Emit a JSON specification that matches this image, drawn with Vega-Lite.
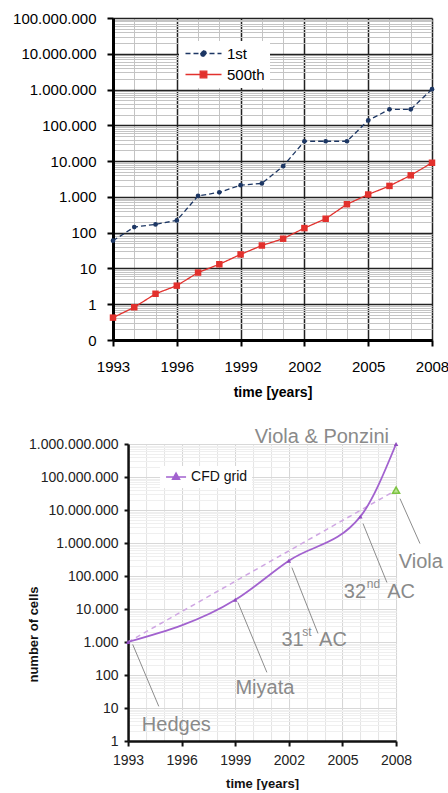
{
  "$schema": "https://vega.github.io/schema/vega-lite/v6.json",
  "background": "white",
  "padding": {"left": 12, "top": 11, "right": 0, "bottom": 0},
  "config": {"font": "Liberation Sans", "view": {"stroke": null}},
  "center": true,
  "spacing": 27,
  "resolve": {"scale": {"color": "independent"}, "legend": {"color": "independent"}},
  "datasets": {
    "top500": [
      {"year": 1993, "value": 59.7, "series": "1st"},
      {"year": 1994, "value": 143.4, "series": "1st"},
      {"year": 1995, "value": 170.4, "series": "1st"},
      {"year": 1996, "value": 220.4, "series": "1st"},
      {"year": 1997, "value": 1068, "series": "1st"},
      {"year": 1998, "value": 1338, "series": "1st"},
      {"year": 1999, "value": 2121, "series": "1st"},
      {"year": 2000, "value": 2379, "series": "1st"},
      {"year": 2001, "value": 7226, "series": "1st"},
      {"year": 2002, "value": 35860, "series": "1st"},
      {"year": 2003, "value": 35860, "series": "1st"},
      {"year": 2004, "value": 35860, "series": "1st"},
      {"year": 2005, "value": 136800, "series": "1st"},
      {"year": 2006, "value": 280600, "series": "1st"},
      {"year": 2007, "value": 280600, "series": "1st"},
      {"year": 2008, "value": 1026000, "series": "1st"},
      {"year": 1993, "value": 0.422, "series": "500th"},
      {"year": 1994, "value": 0.822, "series": "500th"},
      {"year": 1995, "value": 1.96, "series": "500th"},
      {"year": 1996, "value": 3.3, "series": "500th"},
      {"year": 1997, "value": 7.67, "series": "500th"},
      {"year": 1998, "value": 13.1, "series": "500th"},
      {"year": 1999, "value": 24.7, "series": "500th"},
      {"year": 2000, "value": 43.8, "series": "500th"},
      {"year": 2001, "value": 67.8, "series": "500th"},
      {"year": 2002, "value": 134.3, "series": "500th"},
      {"year": 2003, "value": 245.1, "series": "500th"},
      {"year": 2004, "value": 624, "series": "500th"},
      {"year": 2005, "value": 1166, "series": "500th"},
      {"year": 2006, "value": 2026, "series": "500th"},
      {"year": 2007, "value": 4005, "series": "500th"},
      {"year": 2008, "value": 9000, "series": "500th"}
    ],
    "cfd": [
      {"year": 1993, "cells": 1000, "series": "CFD grid"},
      {"year": 1999, "cells": 19000, "series": "CFD grid"},
      {"year": 2002, "cells": 290000, "series": "CFD grid"},
      {"year": 2006, "cells": 6300000, "series": "CFD grid"},
      {"year": 2008, "cells": 1000000000, "series": "CFD grid"}
    ],
    "trend": [
      {"year": 1993, "cells": 1000},
      {"year": 2008, "cells": 40000000}
    ],
    "viola": [
      {"year": 2008, "cells": 40000000}
    ],
    "arrows": [
      {"year": 1993.26, "cells": 845, "year2": 1994.72, "cells2": 11.2},
      {"year": 1999.15, "cells": 15800, "year2": 2000.77, "cells2": 120},
      {"year": 2002.17, "cells": 180000, "year2": 2003.63, "cells2": 1820},
      {"year": 2006.15, "cells": 3880000, "year2": 2007.49, "cells2": 63500},
      {"year": 2008.22, "cells": 22100000, "year2": 2009.34, "cells2": 960000}
    ],
    "notes": [
      {"label": "Viola & Ponzini", "year": 2003.85, "cells": 1670000000},
      {"label": "Viola", "year": 2009.39, "cells": 275000},
      {"label": "32", "year": 2005.7, "cells": 31700},
      {"label": "AC", "year": 2008.28, "cells": 31700},
      {"label": "31", "year": 2002.21, "cells": 1117},
      {"label": "AC", "year": 2004.47, "cells": 1117},
      {"label": "Miyata", "year": 2000.66, "cells": 39.4},
      {"label": "Hedges", "year": 1995.7, "cells": 2.99}
    ],
    "sups": [
      {"label": "nd", "year": 2006.74, "cells": 55300},
      {"label": "st", "year": 2003.01, "cells": 1950}
    ],
    "empty": []
  },
  "vconcat": [
    {
      "spacing": 0,
      "hconcat": [
        {
          "width": 319,
          "height": 322,
          "data": {"name": "top500"},
          "encoding": {
            "x": {
              "field": "year", "type": "quantitative",
              "scale": {"domain": [1993, 2008], "nice": false, "zero": false},
              "axis": {
                "title": "time [years]",
                "values": [1993, 1994, 1995, 1996, 1997, 1998, 1999, 2000, 2001, 2002, 2003, 2004, 2005, 2006, 2007, 2008],
                "format": "d",
                "labelExpr": "(datum.value - 1993) % 3 == 0 ? datum.label : ''",
                "labelFlush": false,
                "labelOverlap": false,
                "labelFontSize": 15,
                "labelColor": "#000",
                "labelPadding": 13,
                "tickSize": 6,
                "tickWidth": 2,
                "tickColor": {"condition": {"test": "(datum.value - 1993) % 3 == 0", "value": "#000"}, "value": "transparent"},
                "domainColor": "#000",
                "domainWidth": 3,
                "grid": true,
                "gridColor": {"condition": {"test": "(datum.value - 1993) % 3 == 0", "value": "#222"}, "value": "#c4c4c4"},
                "gridWidth": {"condition": {"test": "(datum.value - 1993) % 3 == 0", "value": 1.5}, "value": 1},
                "gridOpacity": 1,
                "titleFontSize": 14,
                "titleFontWeight": "bold",
                "titleColor": "#000",
                "titlePadding": 11
              }
            },
            "y": {
              "field": "value", "type": "quantitative",
              "scale": {"type": "log", "domain": [0.1, 100000000], "nice": false},
              "axis": {
                "title": null,
                "values": [0.1, 0.2, 0.3, 0.4, 0.5, 0.6, 0.7, 0.8, 0.9, 1, 2, 3, 4, 5, 6, 7, 8, 9, 10, 20, 30, 40, 50, 60, 70, 80, 90, 100, 200, 300, 400, 500, 600, 700, 800, 900, 1000, 2000, 3000, 4000, 5000, 6000, 7000, 8000, 9000, 10000, 20000, 30000, 40000, 50000, 60000, 70000, 80000, 90000, 100000, 200000, 300000, 400000, 500000, 600000, 700000, 800000, 900000, 1000000, 2000000, 3000000, 4000000, 5000000, 6000000, 7000000, 8000000, 9000000, 10000000, 20000000, 30000000, 40000000, 50000000, 60000000, 70000000, 80000000, 90000000, 100000000],
                "labelExpr": "abs(log(datum.value)/LN10 - round(log(datum.value)/LN10)) < 0.001 ? (datum.value < 1 ? '0' : replace(format(datum.value, ','), regexp(',', 'g'), '.')) : ''",
                "labelOverlap": false,
                "labelFontSize": 15,
                "labelColor": "#000",
                "labelPadding": 11,
                "tickSize": 6,
                "tickWidth": 2,
                "tickColor": {"condition": {"test": "abs(log(datum.value)/LN10 - round(log(datum.value)/LN10)) < 0.001", "value": "#000"}, "value": "transparent"},
                "domainColor": "#000",
                "domainWidth": 3,
                "grid": true,
                "gridColor": {"condition": {"test": "abs(log(datum.value)/LN10 - round(log(datum.value)/LN10)) < 0.001", "value": "#222"}, "value": "#c4c4c4"},
                "gridWidth": {"condition": {"test": "abs(log(datum.value)/LN10 - round(log(datum.value)/LN10)) < 0.001", "value": 1.5}, "value": 1},
                "gridOpacity": 1
              }
            }
          },
          "layer": [
            {
              "mark": {"type": "line", "strokeWidth": 1.3},
              "encoding": {
                "color": {
                  "field": "series", "type": "nominal",
                  "scale": {"domain": ["1st", "500th"], "range": ["#1d3764", "#e2312d"]},
                  "legend": {
                    "title": null,
                    "orient": "none",
                    "legendX": 66,
                    "legendY": 23,
                    "fillColor": "white",
                    "padding": 5,
                    "labelFontSize": 15,
                    "labelColor": "#000",
                    "symbolSize": 144,
                    "symbolOffset": 12,
                    "labelOffset": 16,
                    "rowPadding": 5,
                    "symbolStrokeWidth": 1.3,
                    "encode": {
                      "symbols": {
                        "update": {
                          "shape": {"signal": "datum.value == '1st' ? 'M-3,0H3M-0.45,0A0.45,0.45,0,1,0,0.45,0A0.45,0.45,0,1,0,-0.45,0Z' : 'M-3,0H3M-0.55,-0.55H0.55V0.55H-0.55Z'"},
                          "fill": {"signal": "datum.value == '1st' ? '#1d3764' : '#e2312d'"},
                          "stroke": {"signal": "datum.value == '1st' ? '#1d3764' : '#e2312d'"},
                          "strokeDash": {"signal": "datum.value == '1st' ? [5, 3] : [1, 0]"},
                          "opacity": {"value": 1}
                        }
                      }
                    }
                  }
                },
                "strokeDash": {
                  "field": "series", "type": "nominal",
                  "scale": {"domain": ["1st", "500th"], "range": [[5, 3], [1, 0]]},
                  "legend": null
                }
              }
            },
            {
              "mark": {"type": "point", "filled": true, "opacity": 1},
              "encoding": {
                "color": {"field": "series", "type": "nominal", "legend": null},
                "shape": {"field": "series", "type": "nominal", "scale": {"domain": ["1st", "500th"], "range": ["circle", "square"]}, "legend": null},
                "size": {"field": "series", "type": "nominal", "scale": {"domain": ["1st", "500th"], "range": [22, 42]}, "legend": null}
              }
            }
          ]
        },
        {
          "width": 9,
          "height": 10,
          "data": {"name": "empty"},
          "mark": "point"
        }
      ]
    },
    {
      "width": 268,
      "height": 297,
      "encoding": {
        "x": {
          "field": "year", "type": "quantitative",
          "scale": {"domain": [1993, 2008], "nice": false, "zero": false},
          "axis": {
            "title": "time [years]",
            "values": [1993, 1994, 1995, 1996, 1997, 1998, 1999, 2000, 2001, 2002, 2003, 2004, 2005, 2006, 2007, 2008],
            "format": "d",
            "labelExpr": "(datum.value - 1993) % 3 == 0 ? datum.label : ''",
            "labelFlush": false,
            "labelOverlap": false,
            "labelFontSize": 14,
            "labelColor": "#222",
            "labelPadding": 7,
            "tickSize": 5,
            "tickWidth": 2,
            "tickColor": {"condition": {"test": "(datum.value - 1993) % 3 == 0", "value": "#111"}, "value": "transparent"},
            "domainColor": "#111",
            "domainWidth": 2.5,
            "grid": true,
            "gridColor": {"condition": {"test": "(datum.value - 1993) % 3 == 0", "value": "#d4d4d4"}, "value": "#e4e4e4"},
            "gridWidth": 1,
            "gridOpacity": 1,
            "titleFontSize": 13,
            "titleFontWeight": "bold",
            "titleColor": "#111",
            "titlePadding": 10
          }
        },
        "y": {
          "field": "cells", "type": "quantitative",
          "scale": {"type": "log", "domain": [1, 1000000000], "nice": false},
          "axis": {
            "title": "number of cells",
            "titleFontSize": 13,
            "titleFontWeight": "bold",
            "titleColor": "#111",
            "titleX": -88,
            "titleY": 190,
            "values": [1, 2, 3, 4, 5, 6, 7, 8, 9, 10, 20, 30, 40, 50, 60, 70, 80, 90, 100, 200, 300, 400, 500, 600, 700, 800, 900, 1000, 2000, 3000, 4000, 5000, 6000, 7000, 8000, 9000, 10000, 20000, 30000, 40000, 50000, 60000, 70000, 80000, 90000, 100000, 200000, 300000, 400000, 500000, 600000, 700000, 800000, 900000, 1000000, 2000000, 3000000, 4000000, 5000000, 6000000, 7000000, 8000000, 9000000, 10000000, 20000000, 30000000, 40000000, 50000000, 60000000, 70000000, 80000000, 90000000, 100000000, 200000000, 300000000, 400000000, 500000000, 600000000, 700000000, 800000000, 900000000, 1000000000],
            "labelExpr": "abs(log(datum.value)/LN10 - round(log(datum.value)/LN10)) < 0.001 ? replace(format(datum.value, ','), regexp(',', 'g'), '.') : ''",
            "labelOverlap": false,
            "labelFontSize": 14,
            "labelColor": "#222",
            "labelPadding": 6,
            "tickSize": 4,
            "tickWidth": 2,
            "tickColor": {"condition": {"test": "abs(log(datum.value)/LN10 - round(log(datum.value)/LN10)) < 0.001", "value": "#111"}, "value": "transparent"},
            "domainColor": "#111",
            "domainWidth": 2.5,
            "grid": true,
            "gridColor": {"condition": {"test": "abs(log(datum.value)/LN10 - round(log(datum.value)/LN10)) < 0.001", "value": "#d8d8d8"}, "value": "#efefef"},
            "gridWidth": 1,
            "gridOpacity": 1
          }
        }
      },
      "layer": [
        {
          "data": {"name": "trend"},
          "mark": {"type": "line", "color": "#cfa6e3", "strokeWidth": 1.5, "strokeDash": [5, 4]}
        },
        {
          "data": {"name": "cfd"},
          "mark": {"type": "line", "strokeWidth": 1.8, "interpolate": "monotone"},
          "encoding": {
            "color": {
              "field": "series", "type": "nominal",
              "scale": {"domain": ["CFD grid"], "range": ["#a262cf"]},
              "legend": {
                "title": null,
                "orient": "none",
                "legendX": 32,
                "legendY": 22,
                "fillColor": "white",
                "padding": 4,
                "labelFontSize": 14,
                "labelColor": "#111",
                "symbolSize": 100,
                "symbolOffset": 5,
                "labelOffset": 8,
                "symbolStrokeWidth": 1.5,
                "encode": {
                  "symbols": {
                    "update": {
                      "shape": {"value": "M-2,0H2M0,-0.8L0.7,0.45H-0.7Z"},
                      "fill": {"value": "#a262cf"},
                      "stroke": {"value": "#a262cf"},
                      "opacity": {"value": 1}
                    }
                  }
                }
              }
            }
          }
        },
        {
          "data": {"name": "cfd"},
          "mark": {"type": "point", "shape": "triangle-up", "filled": true, "size": 20, "color": "#8e4bbd", "opacity": 1}
        },
        {
          "data": {"name": "viola"},
          "mark": {"type": "point", "shape": "triangle-up", "filled": true, "size": 50, "fill": "#b9e28f", "stroke": "#7cc242", "strokeWidth": 1.5, "opacity": 1}
        },
        {
          "data": {"name": "arrows"},
          "mark": {"type": "rule", "color": "#8c8c8c", "strokeWidth": 1},
          "encoding": {
            "x2": {"field": "year2"},
            "y2": {"field": "cells2"}
          }
        },
        {
          "data": {"name": "notes"},
          "mark": {"type": "text", "fontSize": 20, "color": "#8a8a8a", "align": "center", "baseline": "middle"},
          "encoding": {"text": {"field": "label"}}
        },
        {
          "data": {"name": "sups"},
          "mark": {"type": "text", "fontSize": 12, "color": "#8a8a8a", "align": "center", "baseline": "middle"},
          "encoding": {"text": {"field": "label"}}
        }
      ]
    }
  ]
}
